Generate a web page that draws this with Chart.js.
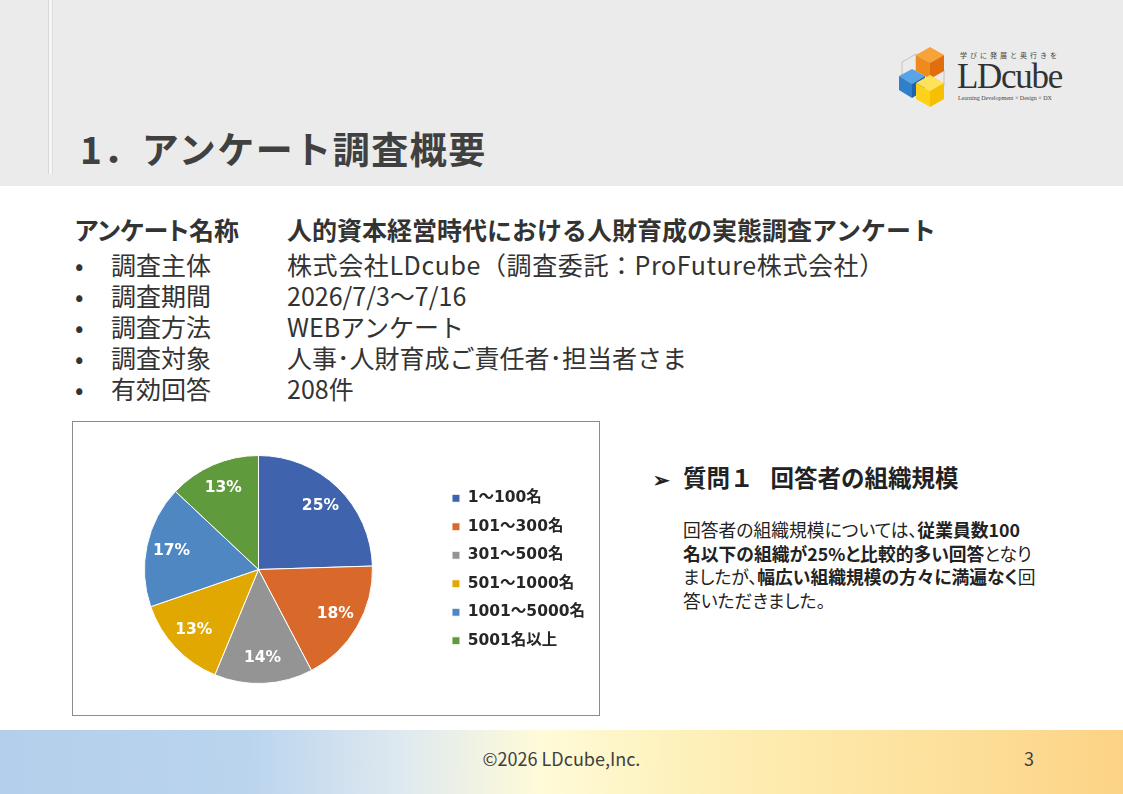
<!DOCTYPE html>
<html lang="ja">
<head>
<meta charset="utf-8">
<title>アンケート調査概要</title>
<script src="https://cdn.jsdelivr.net/npm/chart.js@4.4.1/dist/chart.umd.min.js"></script>
<style>
  html, body { margin: 0; padding: 0; }
  body {
    width: 1123px; height: 794px; position: relative; overflow: hidden;
    background: #fff; color: #333;
    font-family: "Noto Sans CJK JP", "Noto Sans", sans-serif;
  }
  .header { position: absolute; left: 0; top: 0; width: 1123px; height: 186px; background: #ebebeb; }
  .vline { position: absolute; left: 48px; top: 0; width: 3px; height: 174px; background: #f6f6f6;
           border-left: 1px solid #d8d8d8; border-right: 1px solid #dedede; }
  .title { position: absolute; left: 80px; top: 124px; font-size: 37px; font-weight: bold; color: #404040;
           line-height: 48px; letter-spacing: 1.5px; white-space: nowrap; }
  .logo { position: absolute; left: 898px; top: 44px; width: 170px; height: 64px; }
  .logo .catch { position: absolute; left: 62px; top: 7px; font-size: 7px; line-height: 8px; letter-spacing: 3px; color: #444; }
  .logo .name { position: absolute; left: 59px; top: 18px; font-family: "Liberation Serif", "DejaVu Serif", serif;
                font-size: 35px; line-height: 30px; color: #333; letter-spacing: -1.3px; }
  .logo .sub { position: absolute; left: 60px; top: 51px; font-family: "Liberation Serif", serif; font-size: 6px; line-height: 7px; color: #444; white-space: nowrap; }
  .info { position: absolute; left: 75px; top: 214px; font-size: 25px; line-height: 31px; white-space: nowrap; color: #333; }
  .row { position: relative; height: 31px; }
  .row.first { height: 35px; font-weight: bold; }
  .row span { position: absolute; top: 0; height: 31px; line-height: 31px; }
  .row .bul { left: 0; }
  .row .key { left: 36px; }
  .row.first .key { left: 0; font-feature-settings: "palt"; }
  .row .val { left: 212px; }
  .row .val.wide { letter-spacing: 0.6px; }
  .chartbox { position: absolute; left: 72px; top: 421px; width: 528px; height: 295px; box-sizing: border-box;
              border: 1px solid #8c8c8c; background: #fff; }
  .chartbox canvas { display: block; }
  .q { position: absolute; left: 653px; top: 461px; font-size: 23.5px; font-weight: bold; color: #222; white-space: nowrap; line-height: 32px; }
  .q .arrow { display: inline-block; width: 30px; font-size: 20px; }
  .q .gap { display: inline-block; width: 17px; }
  .desc { position: absolute; left: 683px; top: 518px; font-size: 17.8px; line-height: 23.7px; color: #222;
          font-feature-settings: "palt"; white-space: nowrap; }
  .desc b { font-weight: bold; }
  .footer { position: absolute; left: 0; top: 730px; width: 1123px; height: 64px;
            background: linear-gradient(to right, #b4cfeb 0%, #bad4ee 22%, #dfe9ef 36%, #fffbd9 48%, #fdf0b8 62%, #fde3a0 80%, #fcd386 100%); }
  .footer .copy { position: absolute; left: 0; width: 1123px; top: 15px; text-align: center; font-size: 18px; color: #404040; }
  .footer .page { position: absolute; left: 1024px; top: 15px; font-size: 18px; color: #404040; }
</style>
</head>
<body>
<div class="header"></div>
<div class="vline"></div>
<div class="title">1．アンケート調査概要</div>

<div class="logo">
  <svg width="52" height="64" viewBox="0 0 52 64" style="position:absolute;left:0;top:0">
    <g fill="none" stroke="#b8b8b8" stroke-width="0.8">
      <polygon points="4,18 18,10 32,18 32,34 18,42 4,34"/>
      <polygon points="18,26 32,18 46,26 46,42 32,50 18,42"/>
      <line x1="4" y1="34" x2="18" y2="26"/><line x1="18" y1="26" x2="18" y2="10"/>
    </g>
    <polygon points="32,3 46,11 32,19 18,11" fill="#f8a33a"/>
    <polygon points="18,11 32,19 32,35 18,27" fill="#ef8a1c"/>
    <polygon points="32,19 46,11 46,27 32,35" fill="#e06e0c"/>
    <polygon points="14,25 27,32 14,40 1,32" fill="#58a4e6"/>
    <polygon points="1,32 14,40 14,54 1,46" fill="#2f7fcc"/>
    <polygon points="14,40 27,32 27,46 14,54" fill="#1f64ae"/>
    <polygon points="32,31 46,39 32,47 18,39" fill="#ffe25a"/>
    <polygon points="18,39 32,47 32,63 18,55" fill="#ffd21a"/>
    <polygon points="32,47 46,39 46,55 32,63" fill="#f6c000"/>
  </svg>
  <div class="catch">学びに発展と奥行きを</div>
  <div class="name">LDcube</div>
  <div class="sub">Learning Development × Design × DX</div>
</div>

<div class="info">
  <div class="row first"><span class="key">アンケート名称</span><span class="val">人的資本経営時代における人財育成の実態調査アンケート</span></div>
  <div class="row"><span class="bul">•</span><span class="key">調査主体</span><span class="val wide">株式会社LDcube（調査委託：ProFuture株式会社）</span></div>
  <div class="row"><span class="bul">•</span><span class="key">調査期間</span><span class="val">2026/7/3～7/16</span></div>
  <div class="row"><span class="bul">•</span><span class="key">調査方法</span><span class="val">WEBアンケート</span></div>
  <div class="row"><span class="bul">•</span><span class="key">調査対象</span><span class="val">人事･人財育成ご責任者･担当者さま</span></div>
  <div class="row"><span class="bul">•</span><span class="key">有効回答</span><span class="val">208件</span></div>
</div>

<div class="chartbox"><canvas id="piechart" width="526" height="293"></canvas></div>

<div class="q"><span class="arrow">➢</span>質問１<span class="gap"></span>回答者の組織規模</div>
<div class="desc">
  回答者の組織規模については、<b>従業員数100</b><br>
  <b>名以下の組織が25%と比較的多い回答</b>となり<br>
  ましたが、<b>幅広い組織規模の方々に満遍なく</b>回<br>
  答いただきました。
</div>

<div class="footer">
  <div class="copy">©2026 LDcube,Inc.</div>
  <div class="page">3</div>
</div>

<script>
// 組織規模（回答数、合計208件）
const sizeLabels = ["1～100名", "101～300名", "301～500名", "501～1000名", "1001～5000名", "5001名以上"];
const sizeCounts = [51, 37, 29, 28, 36, 27];
const sliceColors = ["#3f63ad", "#d9692a", "#949494", "#e0a800", "#4f87c3", "#5f9a3c"];

const labelFont = '"DejaVu Sans", "Noto Sans CJK JP", sans-serif';

// 円グラフの中にパーセントを描く
const pctLabels = {
  id: "pctLabels",
  afterDatasetsDraw(chart) {
    const ctx = chart.ctx;
    const data = chart.data.datasets[0].data;
    const total = data.reduce((a, b) => a + b, 0);
    ctx.save();
    ctx.fillStyle = "#fff";
    ctx.font = "bold 15.5px " + labelFont;
    ctx.textAlign = "center";
    ctx.textBaseline = "middle";
    chart.getDatasetMeta(0).data.forEach((arc, i) => {
      const mid = (arc.startAngle + arc.endAngle) / 2;
      const r = arc.outerRadius * 0.78;
      const x = arc.x + Math.cos(mid) * r;
      const y = arc.y + Math.sin(mid) * r;
      ctx.fillText(Math.round((data[i] / total) * 100) + "%", x, y);
    });
    ctx.restore();
  },
};

const ctx = document.getElementById("piechart").getContext("2d");
const pieChart = new Chart(ctx, {
  type: "pie",
  data: {
    labels: sizeLabels,
    datasets: [
      {
        data: sizeCounts,
        backgroundColor: sliceColors,
        borderColor: "#ffffff",
        borderWidth: 1,
        hoverOffset: 0,
      },
    ],
  },
  options: {
    responsive: false,
    animation: false,
    layout: { padding: { left: 5, right: 4, top: 33, bottom: 31 } },
    plugins: {
      tooltip: { enabled: false },
      legend: {
        position: "right",
        labels: {
          boxWidth: 8,
          boxHeight: 8,
          padding: 13,
          color: "#262626",
          font: { family: labelFont, size: 15.5, weight: "bold" },
        },
      },
    },
  },
  plugins: [pctLabels],
});
</script>
</body>
</html>
